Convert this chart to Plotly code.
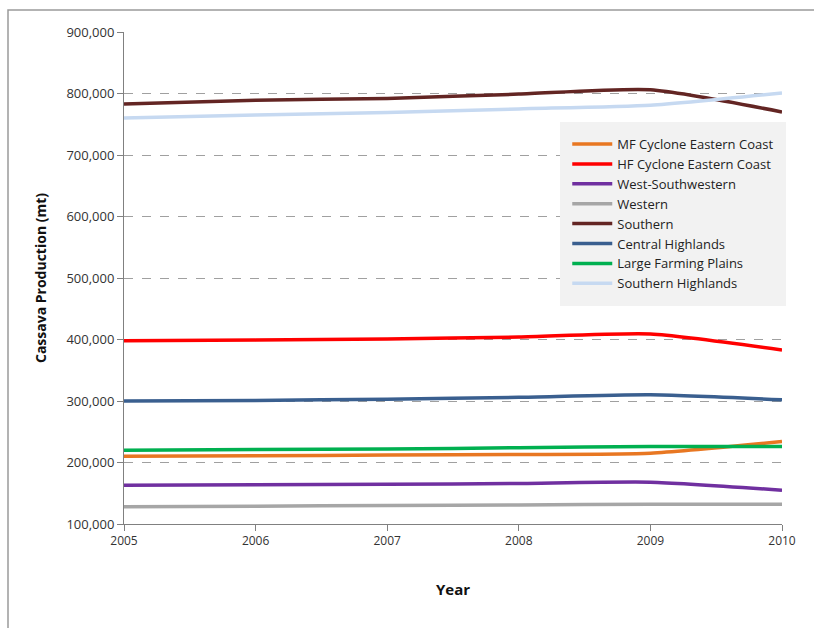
import plotly.graph_objects as go

years = [2005, 2006, 2007, 2008, 2009, 2010]
series_names = ["MF Cyclone Eastern Coast", "HF Cyclone Eastern Coast", "West-Southwestern",
                "Western", "Southern", "Central Highlands", "Large Farming Plains", "Southern Highlands"]
mf_cyclone = [210000, 211000, 212000, 213000, 215000, 234000]
hf_cyclone = [398000, 399000, 401000, 404000, 409000, 383000]
west_sw = [163000, 164000, 164500, 166000, 168000, 155000]
western = [128000, 129000, 130000, 131000, 132000, 132000]
southern = [783000, 789000, 792000, 799000, 806000, 770000]
central_hl = [300000, 301000, 303000, 306000, 310000, 302000]
large_farming = [220000, 221000, 222000, 224000, 226000, 226000]
southern_hl = [760000, 765000, 769000, 775000, 781000, 801000]
series_values = [mf_cyclone, hf_cyclone, west_sw, western, southern, central_hl, large_farming, southern_hl]
colors = ["#E87722", "#FF0000", "#7030A0", "#A6A6A6", "#632523", "#3A5F8F", "#00B050", "#C6D9F1"]

y_ticks = [100000, 200000, 300000, 400000, 500000, 600000, 700000, 800000, 900000]

fig = go.Figure()
for name, vals, col in zip(series_names, series_values, colors):
    fig.add_trace(go.Scatter(x=years, y=vals, name=name, mode="lines",
                             line=dict(color=col, width=3.5, shape="spline", smoothing=0.6)))

font_fam = "Liberation Sans Narrow, Arial Narrow, Open Sans, sans-serif"
fig.update_layout(
    width=814, height=628,
    margin=dict(l=124, r=32, t=32, b=104),
    paper_bgcolor="white", plot_bgcolor="white",
    showlegend=True,
    legend=dict(x=0.663, y=0.817, xanchor="left", yanchor="top",
                bgcolor="#F2F2F2", bordercolor="#F2F2F2", borderwidth=7,
                font=dict(family=font_fam, size=13, color="#222"),
                tracegroupgap=0, itemwidth=40),
    xaxis=dict(range=[2005, 2010], tickvals=years, ticktext=[str(y) for y in years],
               showgrid=False, showline=True, linecolor="#808080", linewidth=1,
               ticks="outside", ticklen=6, tickcolor="#808080",
               tickfont=dict(family=font_fam, size=12, color="#333"),
               title=dict(text="<b>Year</b>", font=dict(family="Open Sans, sans-serif", size=15, color="#111"), standoff=36),
               zeroline=False),
    yaxis=dict(range=[100000, 900000], tickvals=y_ticks,
               ticktext=[f"{v:,}" for v in y_ticks],
               showgrid=True, gridcolor="#A0A0A0", griddash="dash", gridwidth=1,
               showline=True, linecolor="#808080", linewidth=1,
               ticks="outside", ticklen=6, tickcolor="#808080",
               tickfont=dict(family=font_fam, size=13, color="#333"),
               title=dict(text="<b>Cassava Production (mt)</b>", font=dict(family="Open Sans, sans-serif", size=14, color="#111"), standoff=16),
               zeroline=False),
)
# outer chart border (top and left edges visible)
fig.add_shape(type="rect", xref="paper", yref="paper",
              x0=(8 - 124) / 658, x1=(830 - 124) / 658,
              y0=-(640 - 524) / 492, y1=1 + (32 - 10) / 492,
              line=dict(color="#9A9A9A", width=1.5), layer="below")
fig.write_html("out.html")
